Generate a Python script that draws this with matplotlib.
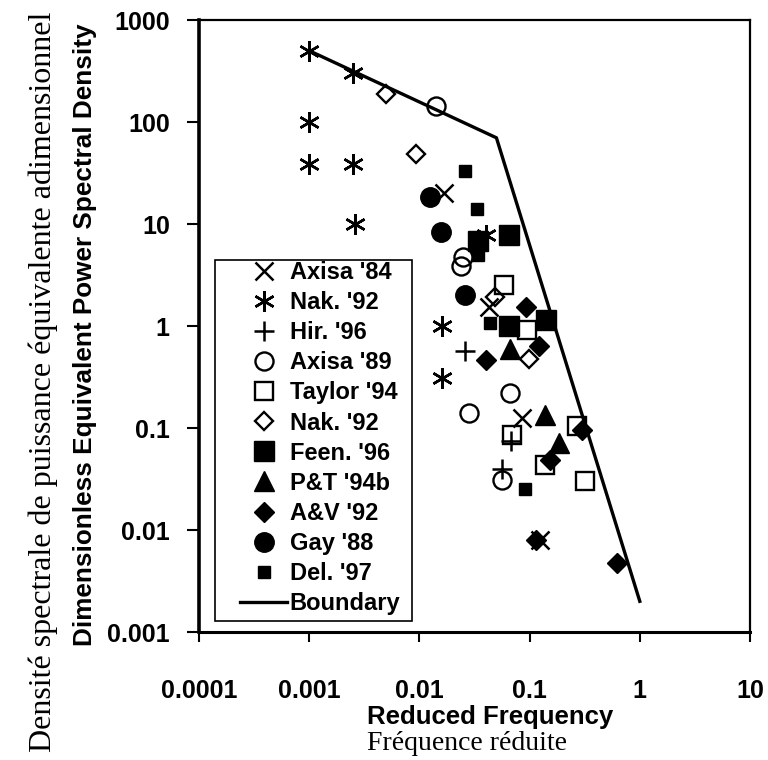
import matplotlib
matplotlib.use("Agg")
import matplotlib.pyplot as plt
from matplotlib.patches import Rectangle
from matplotlib.ticker import FixedLocator, FixedFormatter, NullLocator

# reduced frequency (f) and dimensionless equivalent PSD (p) for each data set
axisa84_f = [0.0166, 0.043, 0.085, 0.125]
axisa84_p = [20, 1.55, 0.125, 0.008]

nak92_star_f = [0.001, 0.0025, 0.001, 0.001, 0.0025, 0.0026, 0.040, 0.016, 0.016]
nak92_star_p = [500, 300, 100, 39, 39, 10, 7.8, 1.0, 0.31]

hir96_f = [0.026, 0.068, 0.056]
hir96_p = [0.57, 0.075, 0.040]

axisa89_f = [0.0142, 0.025, 0.024, 0.067, 0.028, 0.056]
axisa89_p = [144, 4.8, 3.9, 0.22, 0.139, 0.031]

taylor94_f = [0.059, 0.095, 0.069, 0.27, 0.139, 0.32]
taylor94_p = [2.5, 0.91, 0.085, 0.105, 0.043, 0.030]

nak92_dia_f = [0.005, 0.0093, 0.049, 0.098]
nak92_dia_p = [188, 48.5, 1.94, 0.48]

feen96_f = [0.034, 0.065, 0.065, 0.14]
feen96_p = [6.8, 7.8, 1.0, 1.15]

pt94b_f = [0.067, 0.139, 0.184]
pt94b_p = [0.60, 0.134, 0.071]

av92_f = [0.093, 0.040, 0.121, 0.30, 0.154, 0.115, 0.62]
av92_p = [1.55, 0.46, 0.63, 0.095, 0.0485, 0.008, 0.0047]

gay88_f = [0.0126, 0.0157, 0.026]
gay88_p = [18.5, 8.4, 2.0]

del97_f = [0.026, 0.033, 0.034, 0.044, 0.090]
del97_p = [33, 14, 5.0, 1.08, 0.025]

boundary_f = [0.001, 0.05, 1.0]
boundary_p = [500, 70, 0.002]

x_ticks = [1e-4, 1e-3, 1e-2, 1e-1, 1, 10]
x_labels = ["0.0001", "0.001", "0.01", "0.1", "1", "10"]
y_ticks = [1e-3, 1e-2, 1e-1, 1, 10, 100, 1000]
y_labels = ["0.001", "0.01", "0.1", "1", "10", "100", "1000"]

plt.rcParams['font.family'] = ['Liberation Sans', 'DejaVu Sans']

fig = plt.figure(figsize=(7.68, 7.6), dpi=100)
ax = fig.add_axes([199 / 768, 1 - 632 / 760, 551 / 768, 612 / 760])

series = [
    ("Axisa '84", axisa84_f, axisa84_p, dict(marker='x', ms=13, mew=1.8, mfc='none')),
    ("Nak. '92", nak92_star_f, nak92_star_p, dict(marker=(6, 2, 0), ms=15, mew=1.8)),
    ("Hir. '96", hir96_f, hir96_p, dict(marker='+', ms=15, mew=1.8)),
    ("Axisa '89", axisa89_f, axisa89_p, dict(marker='o', ms=13, mfc='none', mew=1.7)),
    ("Taylor '94", taylor94_f, taylor94_p, dict(marker='s', ms=12.5, mfc='none', mew=1.7)),
    ("Nak. '92", nak92_dia_f, nak92_dia_p, dict(marker='D', ms=9.5, mfc='none', mew=1.7)),
    ("Feen. '96", feen96_f, feen96_p, dict(marker='s', ms=14)),
    ("P&T '94b", pt94b_f, pt94b_p, dict(marker='^', ms=14)),
    ("A&V '92", av92_f, av92_p, dict(marker='D', ms=10)),
    ("Gay '88", gay88_f, gay88_p, dict(marker='o', ms=14)),
    ("Del. '97", del97_f, del97_p, dict(marker='s', ms=8.5)),
]

for label, f, p, style in series:
    style.setdefault('mfc', 'k')
    ax.plot(f, p, ls='none', color='k', mec='k', label=label, **style)

ax.plot(boundary_f, boundary_p, color='k', lw=2.4, label='Boundary')

ax.set_xscale('log')
ax.set_yscale('log')
ax.set_xlim(1e-4, 10)
ax.set_ylim(1e-3, 1e3)

ax.xaxis.set_major_locator(FixedLocator(x_ticks))
ax.xaxis.set_major_formatter(FixedFormatter(x_labels))
ax.yaxis.set_major_locator(FixedLocator(y_ticks))
ax.yaxis.set_major_formatter(FixedFormatter(y_labels))
ax.xaxis.set_minor_locator(NullLocator())
ax.yaxis.set_minor_locator(NullLocator())

ax.tick_params(axis='x', direction='out', length=7, width=1.5, pad=27, labelsize=18)
ax.tick_params(axis='y', direction='out', length=9, width=1.5, pad=12, labelsize=18)
for lab in ax.get_xticklabels() + ax.get_yticklabels():
    lab.set_fontweight('bold')

ax.spines['left'].set_linewidth(2.6)
ax.spines['bottom'].set_linewidth(2.2)
ax.spines['top'].set_linewidth(1.6)
ax.spines['right'].set_linewidth(1.6)

leg = ax.legend(loc='upper left', bbox_to_anchor=(0.0744, 0.606), frameon=False,
                borderpad=0, borderaxespad=0, handlelength=2.0, handletextpad=0.1,
                labelspacing=0.3, prop={'weight': 'bold', 'size': 17})
ax.add_patch(Rectangle((0.029, 0.018), 0.358, 0.590, transform=ax.transAxes,
                       fill=False, ec='k', lw=1.2, zorder=3))

# axis titles, English (bold sans) and French (serif)
fig.text(85 / 768, 1 - 646 / 760, "Dimensionless Equivalent Power Spectral Density",
         rotation=90, ha='center', va='bottom', fontsize=18.8, fontweight='bold')
fig.text(43 / 768, 1 - 752 / 760, "Densité spectrale de puissance équivalente adimensionnel",
         rotation=90, ha='center', va='bottom', fontsize=23, family='Liberation Serif')
fig.text(490 / 768, 1 - 717 / 760, "Reduced Frequency",
         ha='center', va='center', fontsize=18.5, fontweight='bold')
fig.text(467 / 768, 1 - 744 / 760, "Fréquence réduite",
         ha='center', va='center', fontsize=20, family='Liberation Serif')

fig.savefig("out.png", dpi=100, facecolor='white')
